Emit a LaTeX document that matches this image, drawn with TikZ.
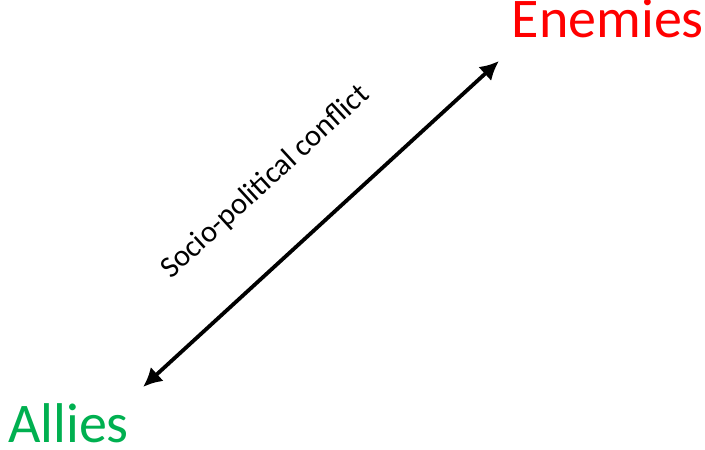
\documentclass[tikz,border=0pt]{standalone}
\usepackage{fontspec}
\setmainfont{Carlito}
\usetikzlibrary{arrows.meta}
\definecolor{verde}{RGB}{0,176,80}
\definecolor{rosso}{RGB}{255,0,0}
\begin{document}
\begin{tikzpicture}[x=1pt,y=1pt]
    \useasboundingbox(0,0)rectangle(705,450);
    %estremi della freccia
    \coordinate(basso)at(143,63);
    \coordinate(alto)at(499,389);
    %freccia doppia
    \draw[line width=3.8pt,{Latex[length=19pt,width=19pt]}-{Latex[length=19pt,width=19pt]}](basso)--(alto);
    %etichetta della freccia
    \node[anchor=base,rotate=42.5,inner sep=0pt,font=\fontsize{30.5}{36}\selectfont](conflitto)at(271,262){Socio-political conflict};
    %scritte agli estremi
    \node[anchor=base east,inner sep=0pt,text=rosso,font=\fontsize{56}{64}\selectfont](nemici)at(704,412){Enemies};
    \node[anchor=base west,inner sep=0pt,text=verde,font=\fontsize{56}{64}\selectfont](alleati)at(8,7){Allies};
\end{tikzpicture}
\end{document}
